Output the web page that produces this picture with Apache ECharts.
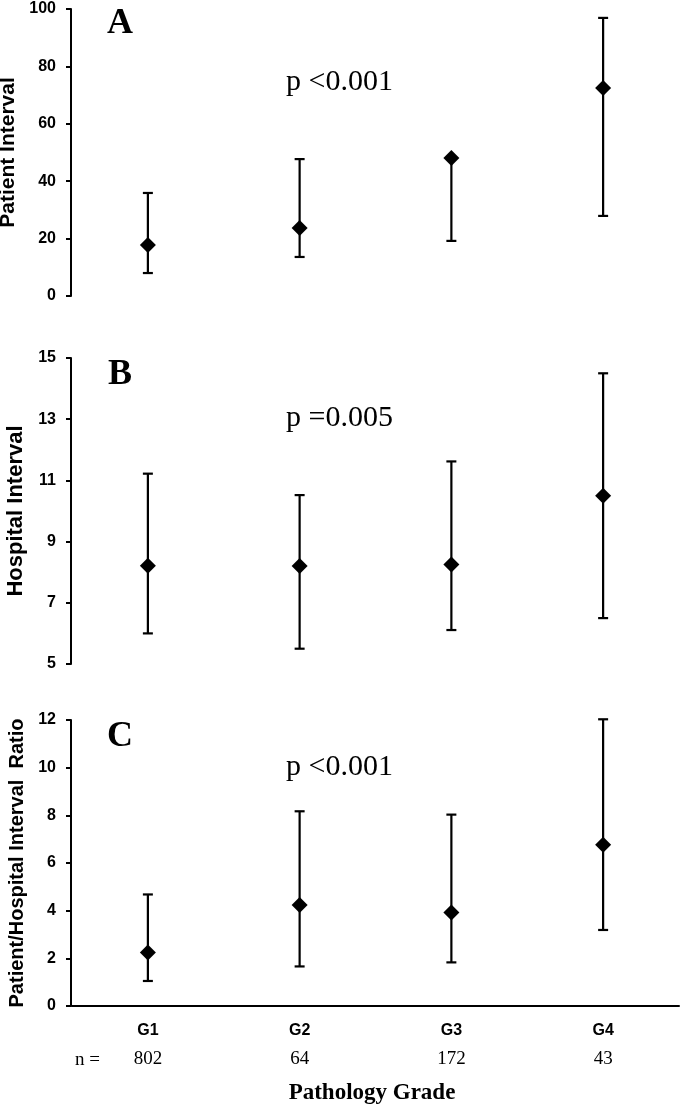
<!DOCTYPE html>
<html>
<head>
<meta charset="utf-8">
<style>
  html, body { margin: 0; padding: 0; background: #ffffff; }
  #chart { width: 680px; height: 1106px; }
</style>
<script src="https://cdn.jsdelivr.net/npm/echarts@6/dist/echarts.min.js"></script>
</head>
<body>
<div id="chart"></div>
<script>
const categories = ['G1', 'G2', 'G3', 'G4'];
const counts = ['802', '64', '172', '43'];

const patientMean = [17.8, 23.7, 48.1, 72.5];
const patientLow  = [8.0, 13.6, 19.2, 27.9];
const patientHigh = [35.9, 47.7, 48.1, 96.9];

const hospitalMean = [8.21, 8.2, 8.25, 10.5];
const hospitalLow  = [6.0, 5.5, 6.11, 6.5];
const hospitalHigh = [11.22, 10.52, 11.62, 14.5];

const ratioMean = [2.25, 4.24, 3.92, 6.77];
const ratioLow  = [1.05, 1.66, 1.83, 3.19];
const ratioHigh = [4.68, 8.17, 8.03, 12.03];

const panelLetters = ['A', 'B', 'C'];
const pValues = ['p <0.001', 'p =0.005', 'p <0.001'];
const axisNames = ['Patient Interval', 'Hospital Interval', 'Patient/Hospital Interval  Ratio'];
const yRanges = [[0, 100, 20], [5, 15, 2], [0, 12, 2]];
const xTitle = 'Pathology Grade';

const SANS = 'Arial, "Liberation Sans", sans-serif';
const SERIF = '"Times New Roman", "Liberation Serif", serif';

const grids = [
  { left: 72, right: 1, top: 9, height: 287, outerBoundsMode: 'none', containLabel: false },
  { left: 72, right: 1, top: 358, height: 306, outerBoundsMode: 'none', containLabel: false },
  { left: 72, right: 1, top: 720, height: 286, outerBoundsMode: 'none', containLabel: false }
];
const nameGaps = [51, 42, 38];
const nameSizes = [21, 22, 20];

function errorBar(params, api) {
  const x = api.value(0);
  const lo = api.coord([x, api.value(1)]);
  const hi = api.coord([x, api.value(2)]);
  const hw = 5;
  const st = { stroke: '#000', lineWidth: 2.2 };
  return {
    type: 'group',
    children: [
      { type: 'line', shape: { x1: lo[0], y1: lo[1], x2: hi[0], y2: hi[1] }, style: st },
      { type: 'line', shape: { x1: lo[0] - hw, y1: lo[1], x2: lo[0] + hw, y2: lo[1] }, style: st },
      { type: 'line', shape: { x1: hi[0] - hw, y1: hi[1], x2: hi[0] + hw, y2: hi[1] }, style: st }
    ]
  };
}

const panels = [
  [patientMean, patientLow, patientHigh],
  [hospitalMean, hospitalLow, hospitalHigh],
  [ratioMean, ratioLow, ratioHigh]
];

const xAxes = grids.map((g, i) => ({
  type: 'category',
  gridIndex: i,
  data: categories,
  boundaryGap: true,
  show: i === 2,
  axisLine: { show: i === 2, lineStyle: { color: '#000', width: 2 } },
  axisTick: { show: false },
  axisLabel: {
    show: i === 2,
    margin: 14,
    formatter: (v, idx) => '{g|' + v + '}\n{n|' + counts[idx] + '}',
    rich: {
      g: { fontFamily: SANS, fontWeight: 'bold', fontSize: 16, color: '#000', lineHeight: 22 },
      n: { fontFamily: SERIF, fontSize: 19, color: '#000', lineHeight: 34 }
    }
  }
}));

const yAxes = grids.map((g, i) => ({
  type: 'value',
  gridIndex: i,
  min: yRanges[i][0],
  max: yRanges[i][1],
  interval: yRanges[i][2],
  offset: 1,
  name: axisNames[i],
  nameLocation: 'middle',
  nameGap: nameGaps[i],
  nameTextStyle: { fontFamily: SANS, fontWeight: 'bold', fontSize: nameSizes[i], color: '#000' },
  axisLine: { show: true, lineStyle: { color: '#000', width: 2 } },
  axisTick: { show: true, length: 5, lineStyle: { color: '#000', width: 2 } },
  axisLabel: { margin: 15, fontFamily: SANS, fontWeight: 'bold', fontSize: 16, color: '#000' },
  splitLine: { show: false }
}));

const series = [];
panels.forEach((p, i) => {
  series.push({
    type: 'custom',
    xAxisIndex: i,
    yAxisIndex: i,
    renderItem: errorBar,
    data: categories.map((c, k) => [k, p[1][k], p[2][k]]),
    z: 2,
    silent: true
  });
  series.push({
    type: 'scatter',
    xAxisIndex: i,
    yAxisIndex: i,
    symbol: 'diamond',
    symbolSize: [16, 16],
    itemStyle: { color: '#000', opacity: 1 },
    data: p[0],
    z: 3,
    silent: true
  });
});

const letterY = [23.5, 375, 737];
const pY = [82, 418, 767];
const graphics = [];
panelLetters.forEach((L, i) => {
  graphics.push({
    type: 'text', x: 120, y: letterY[i],
    style: { text: L, fontFamily: SERIF, fontWeight: 'bold', fontSize: 36, fill: '#000', align: 'center', verticalAlign: 'middle' }
  });
  graphics.push({
    type: 'text', x: 286, y: pY[i],
    style: { text: pValues[i], fontFamily: SERIF, fontSize: 30, fill: '#000', align: 'left', verticalAlign: 'middle' }
  });
});
graphics.push({
  type: 'text', x: 75, y: 1060,
  style: { text: 'n =', fontFamily: SERIF, fontSize: 19, fill: '#000', align: 'left', verticalAlign: 'middle' }
});
graphics.push({
  type: 'text', x: 372, y: 1093,
  style: { text: xTitle, fontFamily: SERIF, fontWeight: 'bold', fontSize: 23, fill: '#000', align: 'center', verticalAlign: 'middle' }
});

const chart = echarts.init(document.getElementById('chart'), null, { renderer: 'canvas' });
chart.setOption({
  backgroundColor: '#ffffff',
  animation: false,
  grid: grids,
  xAxis: xAxes,
  yAxis: yAxes,
  series: series,
  graphic: graphics
});
</script>
</body>
</html>
